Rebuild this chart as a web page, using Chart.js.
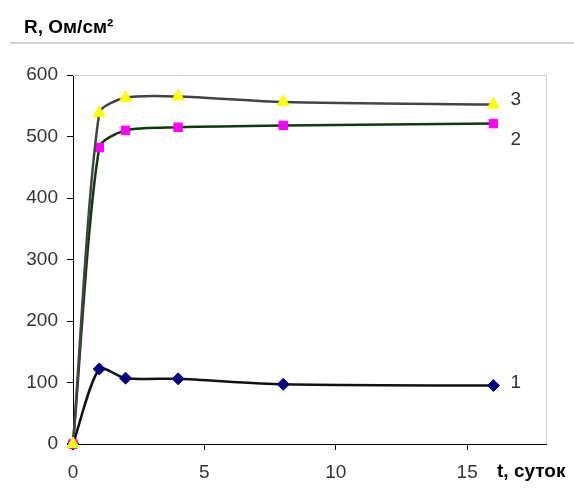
<!DOCTYPE html>
<html>
<head>
<meta charset="utf-8">
<script src="https://cdn.jsdelivr.net/npm/chart.js@4.4.0/dist/chart.umd.min.js"></script>
<style>
  body { margin: 0; background: #fff; }
  #wrap { width: 574px; height: 495px; position: relative; }
</style>
</head>
<body>
<div id="wrap"><canvas id="chart" width="574" height="495"></canvas></div>
<script>
const days = [0, 1, 2, 4, 8, 16];
const series1 = [0, 122, 107, 106, 97, 95];
const series2 = [0, 482, 510, 515, 518, 521];
const series3 = [0, 538, 563, 565, 556, 552];
const seriesNames = ["1", "2", "3"];
const xTicks = [0, 5, 10, 15];
const yTicks = [0, 100, 200, 300, 400, 500, 600];

const tickFont = { family: "'Liberation Sans', Arial, sans-serif", size: 19 };

function toPoints(values) {
  return values.map((v, i) => ({ x: days[i], y: v }));
}

// vertical offset of each curve number from its last point
const labelShift = { "1": -3, "2": 16, "3": -5 };

// frame, title line, axis captions and curve numbers
const decorPlugin = {
  id: "decor",
  afterDraw(chart) {
    const ctx = chart.ctx;
    const a = chart.chartArea;
    ctx.save();
    ctx.strokeStyle = "#d4d4d4";
    ctx.lineWidth = 2;
    ctx.beginPath();
    ctx.moveTo(10, 43);
    ctx.lineTo(574, 43);
    ctx.stroke();
    ctx.lineWidth = 1;
    ctx.strokeStyle = "#cfcfcf";
    ctx.beginPath();
    ctx.moveTo(a.left, a.top + 0.5);
    ctx.lineTo(a.right + 0.5, a.top + 0.5);
    ctx.lineTo(a.right + 0.5, a.bottom);
    ctx.stroke();

    ctx.fillStyle = "#000";
    ctx.font = "bold 19px 'Liberation Sans', Arial, sans-serif";
    ctx.textBaseline = "alphabetic";
    ctx.fillText("R, Ом/см²", 24, 33);
    ctx.fillText("t, суток", 497, 477);

    ctx.font = "19px 'Liberation Sans', Arial, sans-serif";
    ctx.fillStyle = "#333";
    ctx.textBaseline = "middle";
    chart.data.datasets.forEach((ds, i) => {
      const meta = chart.getDatasetMeta(i);
      const last = meta.data[meta.data.length - 1];
      ctx.fillText(ds.label, last.x + 17, last.y + labelShift[ds.label]);
    });
    ctx.restore();
  }
};

new Chart(document.getElementById("chart"), {
  type: "line",
  data: {
    datasets: [
      {
        label: seriesNames[2],
        data: toPoints(series3),
        borderColor: "#444444",
        pointStyle: "triangle",
        pointRadius: 7,
        pointBackgroundColor: "#ffff00",
        pointBorderColor: "#ffff00",
      },
      {
        label: seriesNames[1],
        data: toPoints(series2),
        borderColor: "#0d3a0d",
        pointStyle: "rect",
        pointRadius: 6,
        pointBackgroundColor: "#ff00ff",
        pointBorderColor: "#ff00ff",
      },
      {
        label: seriesNames[0],
        data: toPoints(series1),
        borderColor: "#111111",
        pointStyle: "rectRot",
        pointRadius: 6,
        pointBackgroundColor: "#000080",
        pointBorderColor: "#000080",
      },
    ],
  },
  options: {
    responsive: false,
    animation: false,
    layout: { padding: { top: 75, right: 28, left: 0, bottom: 0 } },
    elements: {
      line: { borderWidth: 2.5, tension: 0.25, fill: false },
      point: { borderWidth: 1, hoverRadius: 6 },
    },
    datasets: { line: { clip: false } },
    plugins: { legend: { display: false }, tooltip: { enabled: false } },
    scales: {
      x: {
        type: "linear",
        min: 0,
        max: 18,
        afterBuildTicks: (s) => { s.ticks = xTicks.map((v) => ({ value: v })); },
        afterFit: (s) => { s.height = 51; },
        grid: { drawOnChartArea: false, tickLength: 6, color: "#000" },
        border: { color: "#000", width: 1 },
        ticks: { font: tickFont, color: "#333", padding: 11 },
      },
      y: {
        min: 0,
        max: 600,
        afterBuildTicks: (s) => { s.ticks = yTicks.map((v) => ({ value: v })); },
        afterFit: (s) => { s.width = 73; },
        grid: { drawOnChartArea: false, tickLength: 6, color: "#000" },
        border: { color: "#000", width: 1 },
        ticks: { font: tickFont, color: "#333", padding: 9 },
      },
    },
  },
  plugins: [decorPlugin],
});
</script>
</body>
</html>
